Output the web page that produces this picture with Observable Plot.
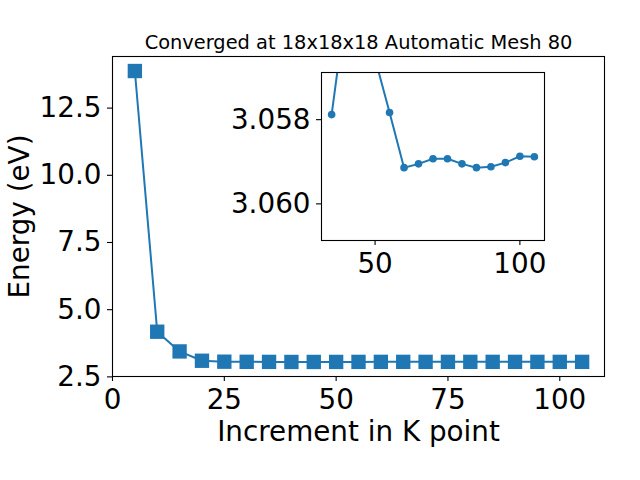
<!DOCTYPE html>
<html>
<head>
<meta charset="utf-8">
<script src="https://cdn.jsdelivr.net/npm/d3@7"></script>
<script src="https://cdn.jsdelivr.net/npm/@observablehq/plot@0.6"></script>
<style>
  html, body { margin: 0; padding: 0; background: white; }
  #wrap { position: relative; width: 640px; height: 480px; overflow: hidden; background: white; }
  #inset { position: absolute; left: 200px; top: 60px; }
</style>
</head>
<body>
<div id="wrap"><div id="main"></div><div id="inset"></div></div>
<script>
const title = "Converged at 18x18x18 Automatic Mesh 80";
const xLabel = "Increment in K point";
const yLabel = "Energy (eV)";
const kpoints = [5, 10, 15, 20, 25, 30, 35, 40, 45, 50, 55, 60, 65, 70, 75, 80, 85, 90, 95, 100, 105];
const energy = [13.88, 4.18, 3.447, 3.10, 3.065, 3.061, 3.05788, 3.0553, 3.0555, 3.05655, 3.05783,
                3.05914, 3.05905, 3.05893, 3.05893, 3.05905, 3.05914, 3.05912, 3.05902, 3.05887, 3.05888];
const xTicks = [0, 25, 50, 75, 100];
const yTicks = [2.5, 5.0, 7.5, 10.0, 12.5];
const insetStart = 35;
const insetXTicks = [50, 100];
const insetYTicks = [3.058, 3.060];

const data = kpoints.map((k, i) => ({k, e: energy[i]}));
const insetData = data.filter(d => d.k >= insetStart);

const blue = "#1f77b4";
const FS = 27.8;

const main = Plot.plot({
  width: 640, height: 480,
  marginLeft: 112, marginRight: 36, marginTop: 56, marginBottom: 104,
  style: {fontFamily: "DejaVu Sans", fontSize: FS + "px", background: "white", color: "black", overflow: "visible"},
  x: {domain: [0, 110], axis: null},
  y: {domain: [2.514, 14.42], axis: null},
  marks: [
    Plot.axisX({ticks: xTicks, tickSize: 5, tickPadding: 8, tickFormat: d3.format("d"), label: null, fontSize: FS, strokeWidth: 1.1}),
    Plot.axisY({ticks: yTicks, tickSize: 5, tickPadding: 6, tickFormat: d => d.toFixed(1), label: null, fontSize: FS, strokeWidth: 1.1}),
    Plot.frame({stroke: "black", strokeWidth: 1.1}),
    Plot.line(data, {x: "k", y: "e", stroke: blue, strokeWidth: 2}),
    Plot.dot(data, {x: "k", y: "e", symbol: "square", r: 8.1, fill: blue, stroke: "none"}),
    Plot.text([title], {text: d => d, frameAnchor: "top", dy: -8, lineAnchor: "bottom", textAnchor: "middle", fontSize: 19.4}),
    Plot.text([xLabel], {text: d => d, frameAnchor: "bottom", dy: 64, lineAnchor: "bottom", textAnchor: "middle", fontSize: FS}),
    Plot.text([yLabel], {text: d => d, frameAnchor: "left", dx: -84, rotate: -90, lineAnchor: "bottom", textAnchor: "middle", fontSize: FS})
  ]
});
document.getElementById("main").appendChild(main);

const inset = Plot.plot({
  width: 360, height: 220,
  marginLeft: 121, marginRight: 16, marginTop: 12, marginBottom: 40,
  style: {fontFamily: "DejaVu Sans", fontSize: FS + "px", background: "transparent", color: "black", overflow: "visible"},
  x: {domain: [31.5, 108.5], axis: null},
  y: {domain: [3.06087, 3.05688], axis: null},
  marks: [
    Plot.frame({fill: "white", stroke: "none"}),
    Plot.axisX({ticks: insetXTicks, tickSize: 5, tickPadding: 8, tickFormat: d3.format("d"), label: null, fontSize: FS, strokeWidth: 1.1}),
    Plot.axisY({ticks: insetYTicks, tickSize: 5, tickPadding: 6, tickFormat: d => d.toFixed(3), label: null, fontSize: FS, strokeWidth: 1.1}),
    Plot.line(insetData, {x: "k", y: "e", stroke: blue, strokeWidth: 2, clip: true}),
    Plot.dot(insetData, {x: "k", y: "e", r: 3.8, fill: blue, stroke: "none", clip: true}),
    Plot.frame({stroke: "black", strokeWidth: 1.1})
  ]
});
document.getElementById("inset").appendChild(inset);
</script>
</body>
</html>
